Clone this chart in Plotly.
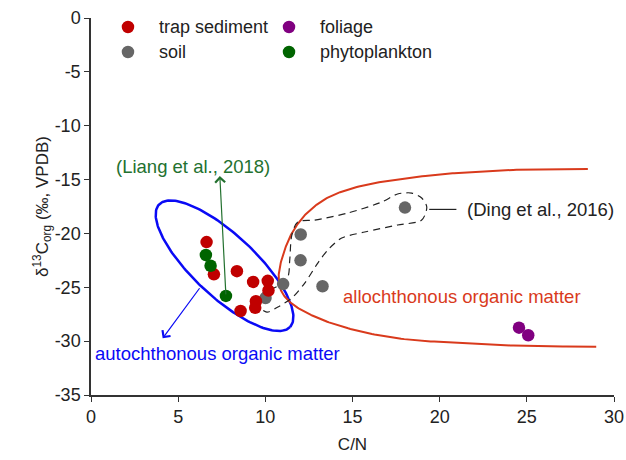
import numpy as np
import plotly.graph_objects as go

# ---------------- data ----------------
trap_cn = [6.63, 7.05, 8.37, 9.30, 10.14, 10.18, 9.46, 9.42, 8.58]
trap_d13c = [-20.8, -23.8, -23.5, -24.5, -24.4, -25.3, -26.3, -26.9, -27.2]

soil_cn = [11.02, 10.01, 12.03, 12.02, 13.28, 18.01]
soil_d13c = [-24.7, -26.0, -20.1, -22.5, -24.9, -17.6]

foliage_cn = [24.55, 25.08]
foliage_d13c = [-28.75, -29.45]

phyto_cn = [6.59, 6.86, 7.74]
phyto_d13c = [-22.0, -23.0, -25.8]

series_names = ["trap sediment", "soil", "foliage", "phytoplankton"]

x_ticks = [0, 5, 10, 15, 20, 25, 30]
y_ticks = [0, -5, -10, -15, -20, -25, -30, -35]

# ---------------- annotation geometry (data units) ----------------
ell_center = (7.66, -23.0)
ell_vec_a = (3.76, -5.68)
ell_vec_b = (-1.21, -2.11)

allo_curve_x = [28.50, 25.16, 21.43, 19.52, 15.60, 13.55, 12.30, 11.55, 11.05, 10.80, 10.77,
                10.93, 11.50, 12.84, 14.75, 17.61, 21.43, 25.16, 28.98]
allo_curve_y = [-14.02, -14.05, -14.35, -14.60, -15.55, -16.70, -18.25, -19.90, -21.80, -23.40,
                -24.33, -25.41, -26.49, -27.73, -28.81, -29.74, -30.20, -30.45, -30.52]

ding_x = [11.86, 12.84, 14.73, 16.68, 17.59, 18.40, 18.97, 19.26, 18.97, 17.59, 15.70, 14.38,
          13.58, 13.01, 12.26, 11.52, 10.72, 10.09, 9.57, 9.80, 10.72, 11.29, 11.40, 11.52, 11.86]
ding_y = [-18.94, -18.76, -18.11, -17.08, -16.34, -16.25, -16.71, -17.55, -18.76, -19.22, -19.87,
          -20.43, -21.54, -22.75, -24.61, -26.00, -26.83, -27.30, -26.65, -25.63, -24.88, -24.05,
          -22.47, -20.15, -18.94]

FONT = "Liberation Sans, Arial, sans-serif"
RED = "#C00000"
GRAY = "#666666"
PURPLE = "#800080"
GREEN = "#006400"
BLUE = "#0A0AF5"
ORANGE = "#D93A1C"
TXTGREEN = "#23712F"
ANN = 18.5
MS = 12.5
# approx screen aspect (px per unit) used only for smooth interpolation of guide curves
SX, SY = 17.45, 10.77


def catmull_rom(xs, ys, n=20, alpha=0.5):
    p = np.column_stack([np.asarray(xs) * SX, np.asarray(ys) * SY])
    p = np.vstack([2 * p[0] - p[1], p, 2 * p[-1] - p[-2]])
    out = []
    for i in range(1, len(p) - 2):
        p0, p1, p2, p3 = p[i - 1], p[i], p[i + 1], p[i + 2]
        t0 = 0.0
        t1 = t0 + np.linalg.norm(p1 - p0) ** alpha
        t2 = t1 + np.linalg.norm(p2 - p1) ** alpha
        t3 = t2 + np.linalg.norm(p3 - p2) ** alpha
        ts = np.linspace(t1, t2, n, endpoint=False)[:, None]
        a1 = (t1 - ts) / (t1 - t0) * p0 + (ts - t0) / (t1 - t0) * p1
        a2 = (t2 - ts) / (t2 - t1) * p1 + (ts - t1) / (t2 - t1) * p2
        a3 = (t3 - ts) / (t3 - t2) * p2 + (ts - t2) / (t3 - t2) * p3
        b1 = (t2 - ts) / (t2 - t0) * a1 + (ts - t0) / (t2 - t0) * a2
        b2 = (t3 - ts) / (t3 - t1) * a2 + (ts - t1) / (t3 - t1) * a3
        c = (t2 - ts) / (t2 - t1) * b1 + (ts - t1) / (t2 - t1) * b2
        out.append(c)
    out.append(p[-2][None, :])
    pts = np.vstack(out)
    return pts[:, 0] / SX, pts[:, 1] / SY


fig = go.Figure()

# ellipse (autochthonous)
t = np.linspace(0, 2 * np.pi, 200)
ex = ell_center[0] + np.cos(t) * ell_vec_a[0] + np.sin(t) * ell_vec_b[0]
ey = ell_center[1] + np.cos(t) * ell_vec_a[1] + np.sin(t) * ell_vec_b[1]
fig.add_trace(go.Scatter(x=ex, y=ey, mode="lines", line=dict(color=BLUE, width=2.5),
                         showlegend=False, hoverinfo="skip"))

# allochthonous curve
cx, cy = catmull_rom(allo_curve_x, allo_curve_y)
fig.add_trace(go.Scatter(x=cx, y=cy, mode="lines", line=dict(color=ORANGE, width=2),
                         showlegend=False, hoverinfo="skip"))

# Ding et al. dashed contour
fig.add_trace(go.Scatter(x=ding_x, y=ding_y, mode="lines",
                         line=dict(color="#222222", width=1.2, dash="7px,5px", shape="spline", smoothing=0.8),
                         showlegend=False, hoverinfo="skip"))

series = [
    (series_names[1], soil_cn, soil_d13c, GRAY),
    (series_names[0], trap_cn, trap_d13c, RED),
    (series_names[2], foliage_cn, foliage_d13c, PURPLE),
    (series_names[3], phyto_cn, phyto_d13c, GREEN),
]
for name, xs, ys, col in series:
    fig.add_trace(go.Scatter(x=xs, y=ys, mode="markers", name=name,
                             marker=dict(color=col, size=MS), showlegend=False))

annotations = [
    # green arrow (Liang)
    dict(x=7.39, y=-14.67, ax=7.74, ay=-25.8, xref="x", yref="y", axref="x", ayref="y",
         text="", showarrow=True, arrowhead=4, arrowsize=1.6, arrowwidth=1.2, arrowcolor=TXTGREEN),
    dict(x=5.85, y=-13.74, xref="x", yref="y", text="(Liang et al., 2018)", showarrow=False,
         font=dict(family=FONT, size=ANN, color=TXTGREEN)),
    # blue arrow
    dict(x=4.11, y=-29.74, ax=6.29, ay=-24.95, xref="x", yref="y", axref="x", ayref="y",
         text="", showarrow=True, arrowhead=4, arrowsize=1.6, arrowwidth=1.2, arrowcolor=BLUE),
    dict(x=0.1, y=-31.15, xref="x", yref="y", text="autochthonous organic matter", showarrow=False,
         xanchor="left", font=dict(family=FONT, size=ANN, color=BLUE)),
    dict(x=21.29, y=-25.88, xref="x", yref="y", text="allochthonous organic matter", showarrow=False,
         font=dict(family=FONT, size=ANN, color=ORANGE)),
    dict(x=21.43, y=-17.77, xref="x", yref="y", text="(Ding et al., 2016)", showarrow=False,
         xanchor="left", font=dict(family=FONT, size=ANN, color="#222222")),
]

shapes = [
    dict(type="line", xref="x", yref="y", x0=19.4, x1=20.96, y0=-17.77, y1=-17.77,
         line=dict(color="#222222", width=1.2)),
]

# legend (two columns) drawn in paper coordinates
legend_cols = {series_names[0]: (0.0707, 0.9761), series_names[1]: (0.0707, 0.9098),
               series_names[2]: (0.3786, 0.9761), series_names[3]: (0.3786, 0.9098)}
legend_colors = {series_names[0]: RED, series_names[1]: GRAY,
                 series_names[2]: PURPLE, series_names[3]: GREEN}
r = MS / 2
for name in series_names:
    lx, ly = legend_cols[name]
    shapes.append(dict(type="circle", xref="paper", yref="paper", xsizemode="pixel", ysizemode="pixel",
                       xanchor=lx, yanchor=ly, x0=-r, x1=r, y0=-r, y1=r,
                       fillcolor=legend_colors[name], line=dict(width=0)))
    annotations.append(dict(x=lx + 0.0555, y=ly, xref="paper", yref="paper", text=name,
                            showarrow=False, xanchor="left", yanchor="middle",
                            font=dict(family=FONT, size=18, color="#222222")))

axis_common = dict(showline=True, linecolor="#333333", linewidth=1.5, ticks="outside",
                   ticklen=5, tickwidth=1.2, tickcolor="#333333", showgrid=False, zeroline=False,
                   mirror=False, automargin=False, tickfont=dict(family=FONT, size=18, color="#222222"))

fig.update_layout(
    width=626, height=460,
    margin=dict(l=91, r=12, t=18, b=65),
    paper_bgcolor="white", plot_bgcolor="white",
    showlegend=False,
    font=dict(family=FONT, color="#222222"),
    xaxis=dict(range=[0, 30], tickvals=x_ticks, ticktext=[str(v) for v in x_ticks],
               title=dict(text="C/N", font=dict(family=FONT, size=17), standoff=12), **axis_common),
    yaxis=dict(range=[-35, 0], tickvals=y_ticks, ticktext=[str(v) for v in y_ticks],
               title=dict(text="δ<sup>13</sup>C<sub>org</sub> (‰, VPDB)", font=dict(family=FONT, size=17),
                          standoff=2), **axis_common),
    annotations=annotations,
    shapes=shapes,
)

fig.write_html("out.html")
